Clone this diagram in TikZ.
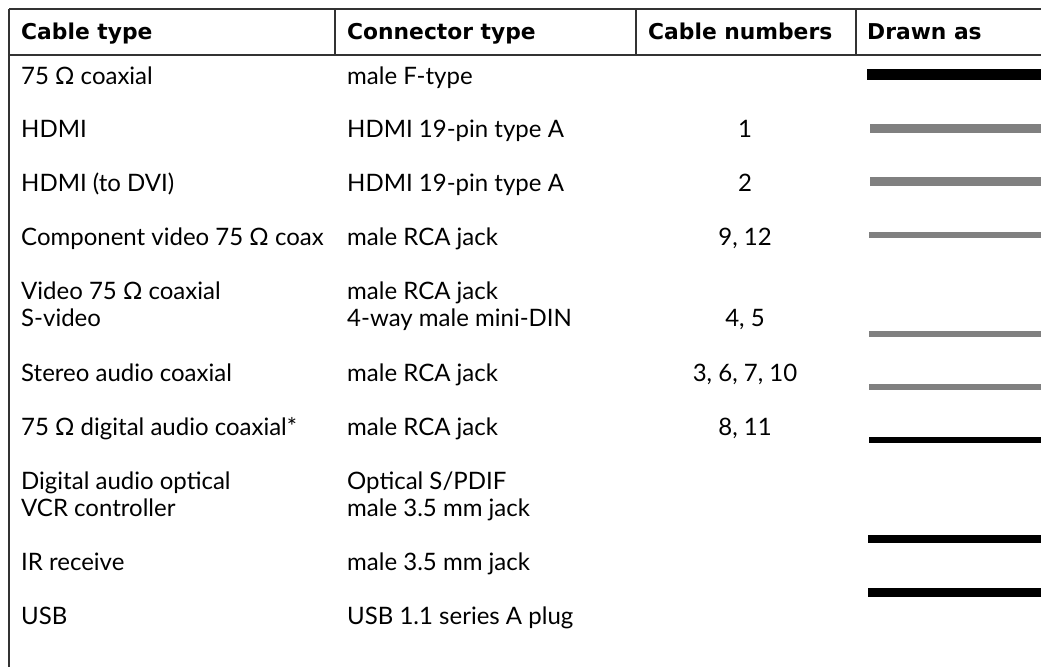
\documentclass[tikz,border=0pt]{standalone}
\usepackage{fontspec}
\setmainfont{Lato}
\newfontfamily\headfont{DejaVu Sans}
\begin{document}
\begin{tikzpicture}[x=1pt,y=-1pt,
  cell/.style={anchor=base west,inner sep=0pt,font=\fontsize{24}{28}\selectfont},
  numcell/.style={anchor=base,inner sep=0pt,font=\fontsize{24}{28}\selectfont},
  head/.style={anchor=base west,inner sep=0pt,font=\headfont\fontsize{21.8}{26}\selectfont\bfseries},
  rule/.style={draw=black!80,line width=1.3pt},
  thickblack/.style={line width=#1,draw=black},
  thickgray/.style={line width=#1,draw=black!50}]
\useasboundingbox (0,0) rectangle (1041,667);
% grid
\coordinate (tl) at (9,9);
\coordinate (tr) at (1041,9);
\coordinate (hl) at (9,55);
\coordinate (hr) at (1041,55);
\coordinate (bl) at (9,667);
\coordinate (c1t) at (335,9); \coordinate (c1b) at (335,55);
\coordinate (c2t) at (636,9); \coordinate (c2b) at (636,55);
\coordinate (c3t) at (856,9); \coordinate (c3b) at (856,55);
\draw[rule] (tl) -- (tr);
\draw[rule] (hl) -- (hr);
\draw[rule] (tl) -- (bl);
\draw[rule] (c1t) -- (c1b);
\draw[rule] (c2t) -- (c2b);
\draw[rule] (c3t) -- (c3b);
% header
\node[head] (h1) at (21,39) {Cable type};
\node[head] (h2) at (347,39) {Connector type};
\node[head] (h3) at (648,39) {Cable numbers};
\node[head] (h4) at (867,39) {Drawn as};
% rows
\node[cell] (a1) at (21,84) {75 Ω coaxial};
\node[cell] (b1) at (347,84) {male F-type};
\node[cell] (a2) at (21,137) {HDMI};
\node[cell] (b2) at (347,137) {HDMI 19-pin type A};
\node[numcell] (n2) at (745,137) {1};
\node[cell] (a3) at (21,191) {HDMI (to DVI)};
\node[cell] (b3) at (347,191) {HDMI 19-pin type A};
\node[numcell] (n3) at (745,191) {2};
\node[cell] (a4) at (21,245) {Component video 75 Ω coax};
\node[cell] (b4) at (347,245) {male RCA jack};
\node[numcell] (n4) at (745,245) {9, 12};
\node[cell] (a5) at (21,299) {Video 75 Ω coaxial};
\node[cell] (b5) at (347,299) {male RCA jack};
\node[cell] (a6) at (21,326) {S-video};
\node[cell] (b6) at (347,326) {4-way male mini-DIN};
\node[numcell] (n6) at (745,326) {4, 5};
\node[cell] (a7) at (21,381) {Stereo audio coaxial};
\node[cell] (b7) at (347,381) {male RCA jack};
\node[numcell] (n7) at (745,381) {3, 6, 7, 10};
\node[cell] (a8) at (21,435) {75 Ω digital audio coaxial*};
\node[cell] (b8) at (347,435) {male RCA jack};
\node[numcell] (n8) at (745,435) {8, 11};
\node[cell] (a9) at (21,489) {Digital audio optical};
\node[cell] (b9) at (347,489) {Optical S/PDIF};
\node[cell] (a10) at (21,516) {VCR controller};
\node[cell] (b10) at (347,516) {male 3.5 mm jack};
\node[cell] (a11) at (21,570) {IR receive};
\node[cell] (b11) at (347,570) {male 3.5 mm jack};
\node[cell] (a12) at (21,624) {USB};
\node[cell] (b12) at (347,624) {USB 1.1 series A plug};
% line samples
\coordinate (s1a) at (867,74.5); \coordinate (s1b) at (1041,74.5);
\coordinate (s2a) at (870,128.5); \coordinate (s2b) at (1041,128.5);
\coordinate (s3a) at (870,181.5); \coordinate (s3b) at (1041,181.5);
\coordinate (s4a) at (869,235); \coordinate (s4b) at (1041,235);
\coordinate (s6a) at (869,334); \coordinate (s6b) at (1041,334);
\coordinate (s7a) at (869,387); \coordinate (s7b) at (1041,387);
\coordinate (s8a) at (869,440); \coordinate (s8b) at (1041,440);
\coordinate (s10a) at (868,539); \coordinate (s10b) at (1041,539);
\coordinate (s11a) at (868,592.5); \coordinate (s11b) at (1041,592.5);
\draw[thickblack=11pt] (s1a) -- (s1b);
\draw[thickgray=9pt] (s2a) -- (s2b);
\draw[thickgray=9pt] (s3a) -- (s3b);
\draw[thickgray=6pt] (s4a) -- (s4b);
\draw[thickgray=6pt] (s6a) -- (s6b);
\draw[thickgray=6pt] (s7a) -- (s7b);
\draw[thickblack=6pt] (s8a) -- (s8b);
\draw[thickblack=8pt] (s10a) -- (s10b);
\draw[thickblack=9pt] (s11a) -- (s11b);
\end{tikzpicture}
\end{document}
